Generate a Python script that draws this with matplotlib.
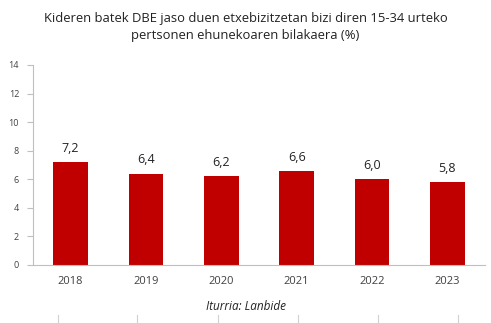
import matplotlib.pyplot as plt

# data
years = ['2018', '2019', '2020', '2021', '2022', '2023']
values = [7.2, 6.4, 6.2, 6.6, 6.0, 5.8]
yticks = [0, 2, 4, 6, 8, 10, 12, 14]

plt.rcParams['font.family'] = ['Open Sans', 'DejaVu Sans']

fig = plt.figure(figsize=(4.91, 3.23), dpi=100)
ax = fig.add_axes([33/491, 1 - 265/323, 452/491, 200/323])

x = range(len(years))
bars = ax.bar(x, values, width=0.46, color='#C00000', zorder=2)
for xi, v in zip(x, values):
    ax.text(xi, v + 0.5, f'{v:.1f}'.replace('.', ','), ha='center', va='bottom',
            fontsize=9, color='#222222')

ax.set_xlim(-0.5, len(years) - 0.5)
ax.set_ylim(0, 14)
ax.set_yticks(yticks)
ax.set_yticklabels([str(t) for t in yticks], fontsize=6.5, color='#404040')
ax.set_xticks(list(x))
ax.set_xticklabels(years, fontsize=8, color='#404040')
ax.tick_params(axis='y', length=4, color='#bfbfbf', pad=6)
ax.tick_params(axis='x', length=0, pad=8)
for s in ['top', 'right']:
    ax.spines[s].set_visible(False)
ax.spines['left'].set_color('#bfbfbf')
ax.spines['bottom'].set_color('#bfbfbf')
ax.spines['left'].set_linewidth(0.8)
ax.spines['bottom'].set_linewidth(0.8)

fig.text(0.5, 1 - 27/323,
         'Kideren batek DBE jaso duen etxebizitzetan bizi diren 15-34 urteko\npertsonen ehunekoaren bilakaera (%)',
         ha='center', va='center', fontsize=9.4, color='#222222', linespacing=1.4)
fig.text(0.5, 1 - 307/323, 'Iturria: Lanbide', ha='center', va='center',
         fontsize=8.5, style='italic', color='#222222')

# faint tick marks at the bottom edge (remnant of a cropped chart below)
for px in [58, 137, 218, 298, 378, 458]:
    fig.add_artist(plt.Line2D([px/491, px/491], [0, 8/323], color='#d0d0d0', lw=0.8))

fig.savefig('out.png', dpi=100)
